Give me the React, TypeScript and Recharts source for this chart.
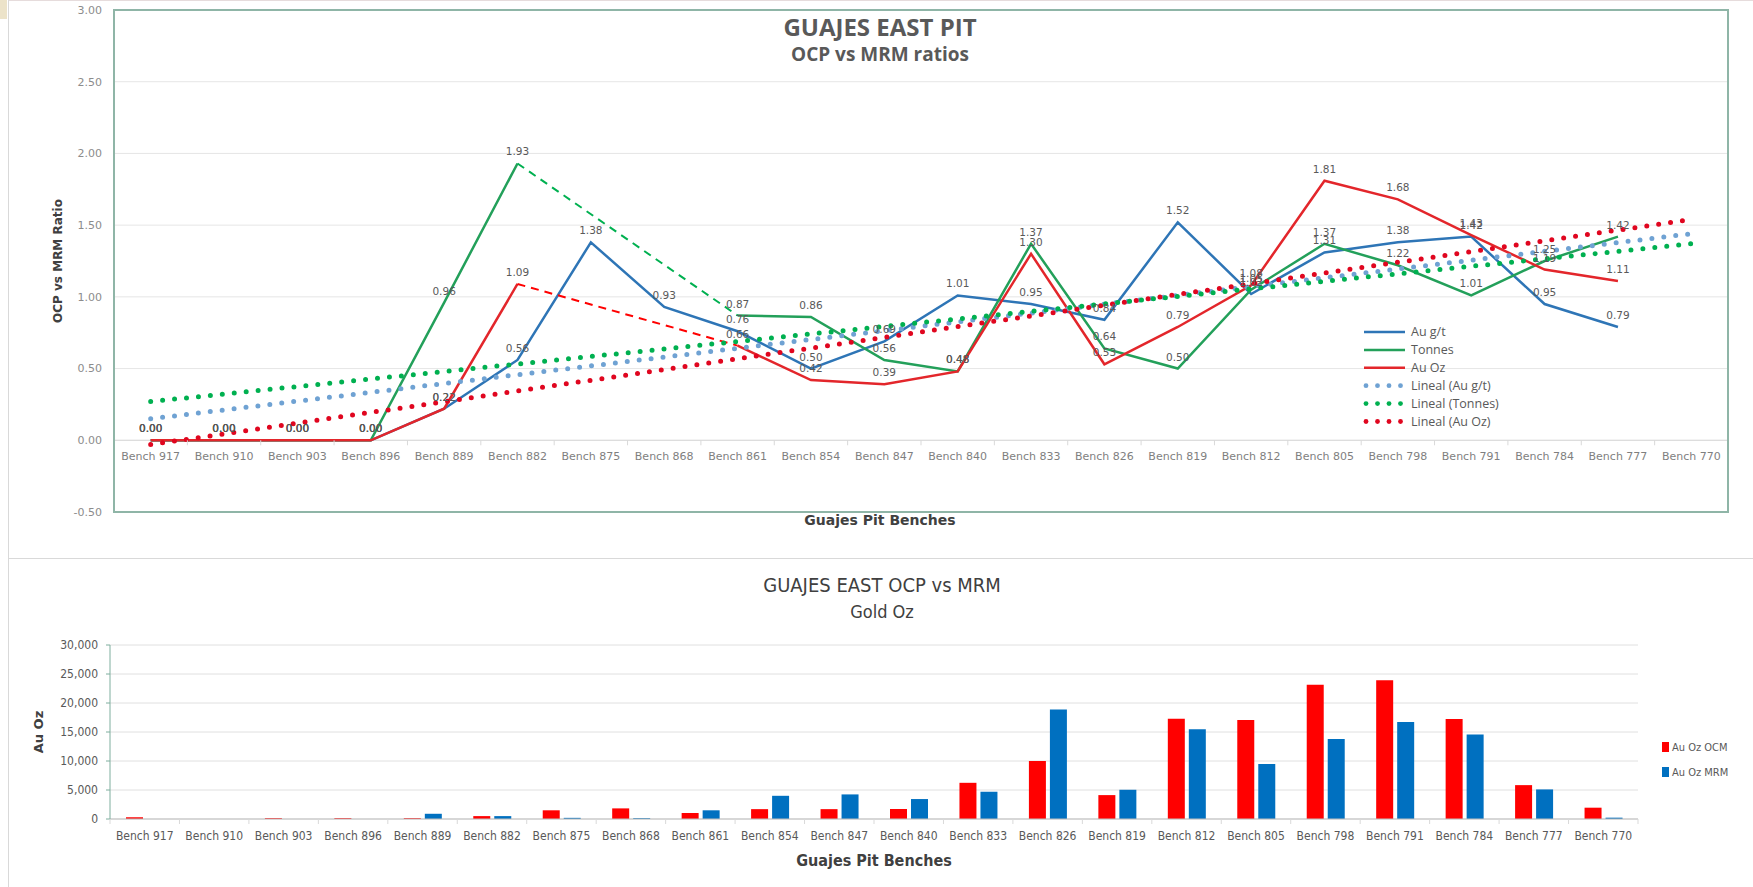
import React from 'react';
import {
  Bar,
  BarChart,
  CartesianGrid,
  ComposedChart,
  LabelList,
  Line,
  ReferenceLine,
  XAxis,
  YAxis,
} from 'recharts';

// categories shared by both charts
const benches = [
  'Bench 917', 'Bench 910', 'Bench 903', 'Bench 896', 'Bench 889', 'Bench 882',
  'Bench 875', 'Bench 868', 'Bench 861', 'Bench 854', 'Bench 847', 'Bench 840',
  'Bench 833', 'Bench 826', 'Bench 819', 'Bench 812', 'Bench 805', 'Bench 798',
  'Bench 791', 'Bench 784', 'Bench 777', 'Bench 770',
];

// OCP vs MRM ratios
const auGt = [0, 0, 0, 0, 0.22, 0.56, 1.38, 0.93, 0.76, 0.5, 0.69, 1.01, 0.95, 0.84, 1.52, 1.02, 1.31, 1.38, 1.42, 0.95, 0.79, null];
const tonnes = [0, 0, 0, 0, 0.96, 1.93, null, null, 0.87, 0.86, 0.56, 0.48, 1.37, 0.64, 0.5, 1.05, 1.37, 1.22, 1.01, 1.25, 1.42, null];
const auOz = [0, 0, 0, 0, 0.22, 1.09, null, null, 0.66, 0.42, 0.39, 0.48, 1.3, 0.53, 0.79, 1.08, 1.81, 1.68, 1.43, 1.19, 1.11, null];

// dashed joins across the missing benches
const tonnesGap = [null, null, null, null, null, 1.93, null, null, 0.87, null, null, null, null, null, null, null, null, null, null, null, null, null];
const auOzGap = [null, null, null, null, null, 1.09, null, null, 0.66, null, null, null, null, null, null, null, null, null, null, null, null, null];

const trendAuGt = [0.15, null, null, null, null, null, null, null, null, null, null, null, null, null, null, null, null, null, null, null, null, 1.44];
const trendTonnes = [0.27, null, null, null, null, null, null, null, null, null, null, null, null, null, null, null, null, null, null, null, null, 1.37];
const trendAuOz = [-0.03, null, null, null, null, null, null, null, null, null, null, null, null, null, null, null, null, null, null, null, null, 1.54];

const ratioTicks = [-0.5, 0, 0.5, 1, 1.5, 2, 2.5, 3];

// Gold Oz per bench
const ozOcm = [300, 0, 150, 150, 150, 500, 1500, 1830, 1030, 1700, 1700, 1720, 6240, 10020, 4120, 17300, 17070, 23140, 23940, 17240, 5840, 1950];
const ozMrm = [0, 0, 0, 0, 900, 500, 200, 150, 1500, 4000, 4240, 3440, 4700, 18900, 5040, 15460, 9500, 13800, 16720, 14550, 5100, 230];
const ozTicks = [0, 5000, 10000, 15000, 20000, 25000, 30000];

const ratioData = benches.map((b, i) => ({
  bench: b,
  auGt: auGt[i],
  tonnes: tonnes[i],
  auOz: auOz[i],
  tonnesGap: tonnesGap[i],
  auOzGap: auOzGap[i],
  trendAuGt: trendAuGt[i],
  trendTonnes: trendTonnes[i],
  trendAuOz: trendAuOz[i],
}));

const ozData = benches.map((b, i) => ({ bench: b, ocm: ozOcm[i], mrm: ozMrm[i] }));

const BLUE = '#2E75B6';
const GREEN = '#23A05A';
const RED = '#E3262B';

const ratioLegend = [
  { name: 'Au g/t', color: BLUE, dotted: false },
  { name: 'Tonnes', color: GREEN, dotted: false },
  { name: 'Au Oz', color: RED, dotted: false },
  { name: 'Lineal (Au g/t)', color: '#6FA2D3', dotted: true },
  { name: 'Lineal (Tonnes)', color: '#00B050', dotted: true },
  { name: 'Lineal (Au Oz)', color: '#E0061F', dotted: true },
];

const ozLegend = [
  { name: 'Au Oz OCM', color: '#FF0000' },
  { name: 'Au Oz MRM', color: '#0070C0' },
];

// layout of the top chart
const W = 1753;
const TOP_H = 556;
const T_LEFT = 114;
const T_RIGHT = 1728;
const T_TOP = 10;
const T_BOTTOM = 512;
const Y_MIN = -0.5;
const Y_MAX = 3;
const ZERO_Y = T_TOP + ((T_BOTTOM - T_TOP) * Y_MAX) / (Y_MAX - Y_MIN);
const T_BAND = (T_RIGHT - T_LEFT) / benches.length;

// layout of the bottom chart
const BOT_TOP = 560;
const BOT_H = 327;
const B_LEFT = 110;
const B_RIGHT = 1638;
const B_TOP = 85;
const B_BOTTOM = 259;
const B_BAND = (B_RIGHT - B_LEFT) / benches.length;

const SANS = "'DejaVu Sans', sans-serif";
const OPEN = "'Open Sans', sans-serif";
const NARROW = "'Liberation Sans Narrow', 'DejaVu Sans Condensed', 'Liberation Sans', sans-serif";

const fmt2 = (v: any) => (v === null || v === undefined ? '' : Number(v).toFixed(2));

const RatioTick = (props: any) => {
  const { x, payload, index } = props;
  return (
    <g>
      <line x1={x - T_BAND / 2} x2={x - T_BAND / 2} y1={ZERO_Y} y2={ZERO_Y + 5} stroke="#d9d9d9" />
      {index === benches.length - 1 && (
        <line x1={x + T_BAND / 2} x2={x + T_BAND / 2} y1={ZERO_Y} y2={ZERO_Y + 5} stroke="#d9d9d9" />
      )}
      <text x={x} y={ZERO_Y + 20} textAnchor="middle" fontSize={11} fill="#7f7f7f" fontFamily={SANS}>
        {payload.value}
      </text>
    </g>
  );
};

const OzTick = (props: any) => {
  const { x, payload, index } = props;
  return (
    <g>
      <line x1={x - B_BAND / 2} x2={x - B_BAND / 2} y1={B_BOTTOM} y2={B_BOTTOM + 5} stroke="#d9d9d9" />
      {index === benches.length - 1 && (
        <line x1={x + B_BAND / 2} x2={x + B_BAND / 2} y1={B_BOTTOM} y2={B_BOTTOM + 5} stroke="#d9d9d9" />
      )}
      <text x={x} y={B_BOTTOM + 21} textAnchor="middle" fontSize={12} fill="#595959" fontFamily={NARROW}>
        {payload.value}
      </text>
    </g>
  );
};

const labelStyle = { fontSize: 10.5, fill: '#595959', fontFamily: SANS };

const App = () => {
  return (
    <div style={{ position: 'absolute', left: 0, top: 0, width: W, height: 887, background: '#fff', overflow: 'hidden' }}>
      <div style={{ position: 'absolute', left: 0, top: 0, width: 7, height: 19, background: '#ECE3C9' }} />
      <div style={{ position: 'absolute', left: 8, top: 0, width: W, height: 1, background: '#e6dcdc' }} />
      <div style={{ position: 'absolute', left: 8, top: 0, width: 1, height: 887, background: '#d9d9d9' }} />
      <div style={{ position: 'absolute', left: 8, top: 558, width: W, height: 1, background: '#d9d9d9' }} />

      {/* top chart: ratios */}
      <div style={{ position: 'absolute', left: 0, top: 0 }}>
        <ComposedChart
          width={W}
          height={TOP_H}
          data={ratioData}
          margin={{ top: T_TOP, right: W - T_RIGHT, bottom: TOP_H - T_BOTTOM - 20, left: 0 }}
        >
          <CartesianGrid horizontal vertical={false} stroke="#e6e6e6" />
          <XAxis
            dataKey="bench"
            scale="band"
            height={20}
            interval={0}
            axisLine={false}
            tickLine={false}
            tick={<RatioTick />}
          />
          <YAxis
            width={T_LEFT}
            domain={[Y_MIN, Y_MAX]}
            ticks={ratioTicks}
            interval={0}
            axisLine={false}
            tickLine={false}
            tickSize={0}
            tickMargin={12}
            tickFormatter={fmt2}
            tick={{ fontSize: 11, fill: '#8c8c8c', fontFamily: SANS }}
          />
          <ReferenceLine y={0} stroke="#d9d9d9" />
          <Line dataKey="auGt" stroke={BLUE} strokeWidth={2.5} dot={false} isAnimationActive={false}>
            <LabelList dataKey="auGt" position="top" offset={8} formatter={fmt2} style={labelStyle} />
          </Line>
          <Line dataKey="tonnes" stroke={GREEN} strokeWidth={2.5} dot={false} isAnimationActive={false}>
            <LabelList dataKey="tonnes" position="top" offset={8} formatter={fmt2} style={labelStyle} />
          </Line>
          <Line dataKey="auOz" stroke={RED} strokeWidth={2.5} dot={false} isAnimationActive={false}>
            <LabelList dataKey="auOz" position="top" offset={8} formatter={fmt2} style={labelStyle} />
          </Line>
          <Line dataKey="tonnesGap" stroke="#00B050" strokeWidth={2} strokeDasharray="8 6" connectNulls dot={false} isAnimationActive={false} />
          <Line dataKey="auOzGap" stroke="#FF0000" strokeWidth={2} strokeDasharray="8 6" connectNulls dot={false} isAnimationActive={false} />
          <Line dataKey="trendAuGt" stroke="#6FA2D3" strokeWidth={5} strokeLinecap="round" strokeDasharray="0 12" connectNulls dot={false} isAnimationActive={false} />
          <Line dataKey="trendTonnes" stroke="#00B050" strokeWidth={5} strokeLinecap="round" strokeDasharray="0 12" connectNulls dot={false} isAnimationActive={false} />
          <Line dataKey="trendAuOz" stroke="#E0061F" strokeWidth={5} strokeLinecap="round" strokeDasharray="0 12" connectNulls dot={false} isAnimationActive={false} />
        </ComposedChart>
      </div>

      {/* plot frame of the top chart */}
      <div
        style={{
          position: 'absolute',
          left: T_LEFT - 1,
          top: T_TOP - 1,
          width: T_RIGHT - T_LEFT + 2,
          height: T_BOTTOM - T_TOP + 2,
          border: '2px solid #8fb5a7',
          boxSizing: 'border-box',
          pointerEvents: 'none',
        }}
      />

      <div style={{ position: 'absolute', left: 580, top: 11, width: 600, textAlign: 'center', fontFamily: OPEN, fontWeight: 700, color: '#595959' }}>
        <div style={{ fontSize: 24, lineHeight: '31px' }}>GUAJES EAST PIT</div>
        <div style={{ fontSize: 19, lineHeight: '24px' }}>OCP vs MRM ratios</div>
      </div>
      <div style={{ position: 'absolute', left: 580, top: 512, width: 600, textAlign: 'center', fontFamily: SANS, fontWeight: 700, fontSize: 14, color: '#404040' }}>
        Guajes Pit Benches
      </div>
      <div
        style={{
          position: 'absolute',
          left: 58 - 100,
          top: 261 - 10,
          width: 200,
          height: 20,
          lineHeight: '20px',
          textAlign: 'center',
          transform: 'rotate(-90deg)',
          fontFamily: SANS,
          fontWeight: 700,
          fontSize: 12,
          color: '#404040',
        }}
      >
        OCP vs MRM Ratio
      </div>

      <svg style={{ position: 'absolute', left: 1355, top: 322 }} width={170} height={112}>
        {ratioLegend.map((item, i) => {
          const y = 10 + i * 17.9;
          return (
            <g key={item.name}>
              {item.dotted ? (
                [0, 1, 2, 3].map((k) => <circle key={k} cx={11 + k * 11.5} cy={y} r={2.4} fill={item.color} />)
              ) : (
                <line x1={9} x2={50} y1={y} y2={y} stroke={item.color} strokeWidth={2.5} />
              )}
              <text x={56} y={y + 4} fontSize={12.5} fill="#595959" fontFamily={OPEN}>
                {item.name}
              </text>
            </g>
          );
        })}
      </svg>

      {/* bottom chart: gold ounces */}
      <div style={{ position: 'absolute', left: 0, top: BOT_TOP }}>
        <BarChart
          width={W}
          height={BOT_H}
          data={ozData}
          margin={{ top: B_TOP, right: W - B_RIGHT, bottom: BOT_H - B_BOTTOM - 30, left: 0 }}
          barSize={17}
          barGap={4}
        >
          <CartesianGrid horizontal vertical={false} stroke="#e0e0e0" />
          <XAxis
            dataKey="bench"
            height={30}
            interval={0}
            axisLine={{ stroke: '#bfbfbf' }}
            tickLine={false}
            tick={<OzTick />}
          />
          <YAxis
            width={B_LEFT}
            domain={[0, 30000]}
            ticks={ozTicks}
            interval={0}
            axisLine={{ stroke: '#7fae9e' }}
            tickLine={{ stroke: '#7fae9e' }}
            tickSize={4}
            tickMargin={8}
            tickFormatter={(v: number) => v.toLocaleString('en-US')}
            tick={{ fontSize: 12, fill: '#595959', fontFamily: NARROW }}
          />
          <Bar dataKey="ocm" fill="#FF0000" isAnimationActive={false} />
          <Bar dataKey="mrm" fill="#0070C0" isAnimationActive={false} />
        </BarChart>
      </div>

      <div style={{ position: 'absolute', left: 582, top: 571, width: 600, textAlign: 'center', fontFamily: NARROW, color: '#404040' }}>
        <div style={{ fontSize: 20, lineHeight: '28px' }}>GUAJES EAST OCP vs MRM</div>
        <div style={{ fontSize: 18, lineHeight: '26px' }}>Gold Oz</div>
      </div>
      <div style={{ position: 'absolute', left: 574, top: 851, width: 600, textAlign: 'center', fontFamily: NARROW, fontWeight: 700, fontSize: 16, color: '#404040' }}>
        Guajes Pit Benches
      </div>
      <div
        style={{
          position: 'absolute',
          left: 39 - 50,
          top: 732 - 10,
          width: 100,
          height: 20,
          lineHeight: '20px',
          textAlign: 'center',
          transform: 'rotate(-90deg)',
          fontFamily: SANS,
          fontWeight: 700,
          fontSize: 13,
          color: '#404040',
        }}
      >
        Au Oz
      </div>

      <svg style={{ position: 'absolute', left: 1658, top: 735 }} width={95} height={50}>
        {ozLegend.map((item, i) => {
          const y = 12 + i * 25;
          return (
            <g key={item.name}>
              <rect x={4} y={y - 5} width={7} height={10} fill={item.color} />
              <text x={14} y={y + 4} fontSize={11} fill="#595959" fontFamily={NARROW}>
                {item.name}
              </text>
            </g>
          );
        })}
      </svg>
    </div>
  );
};

export default App;
